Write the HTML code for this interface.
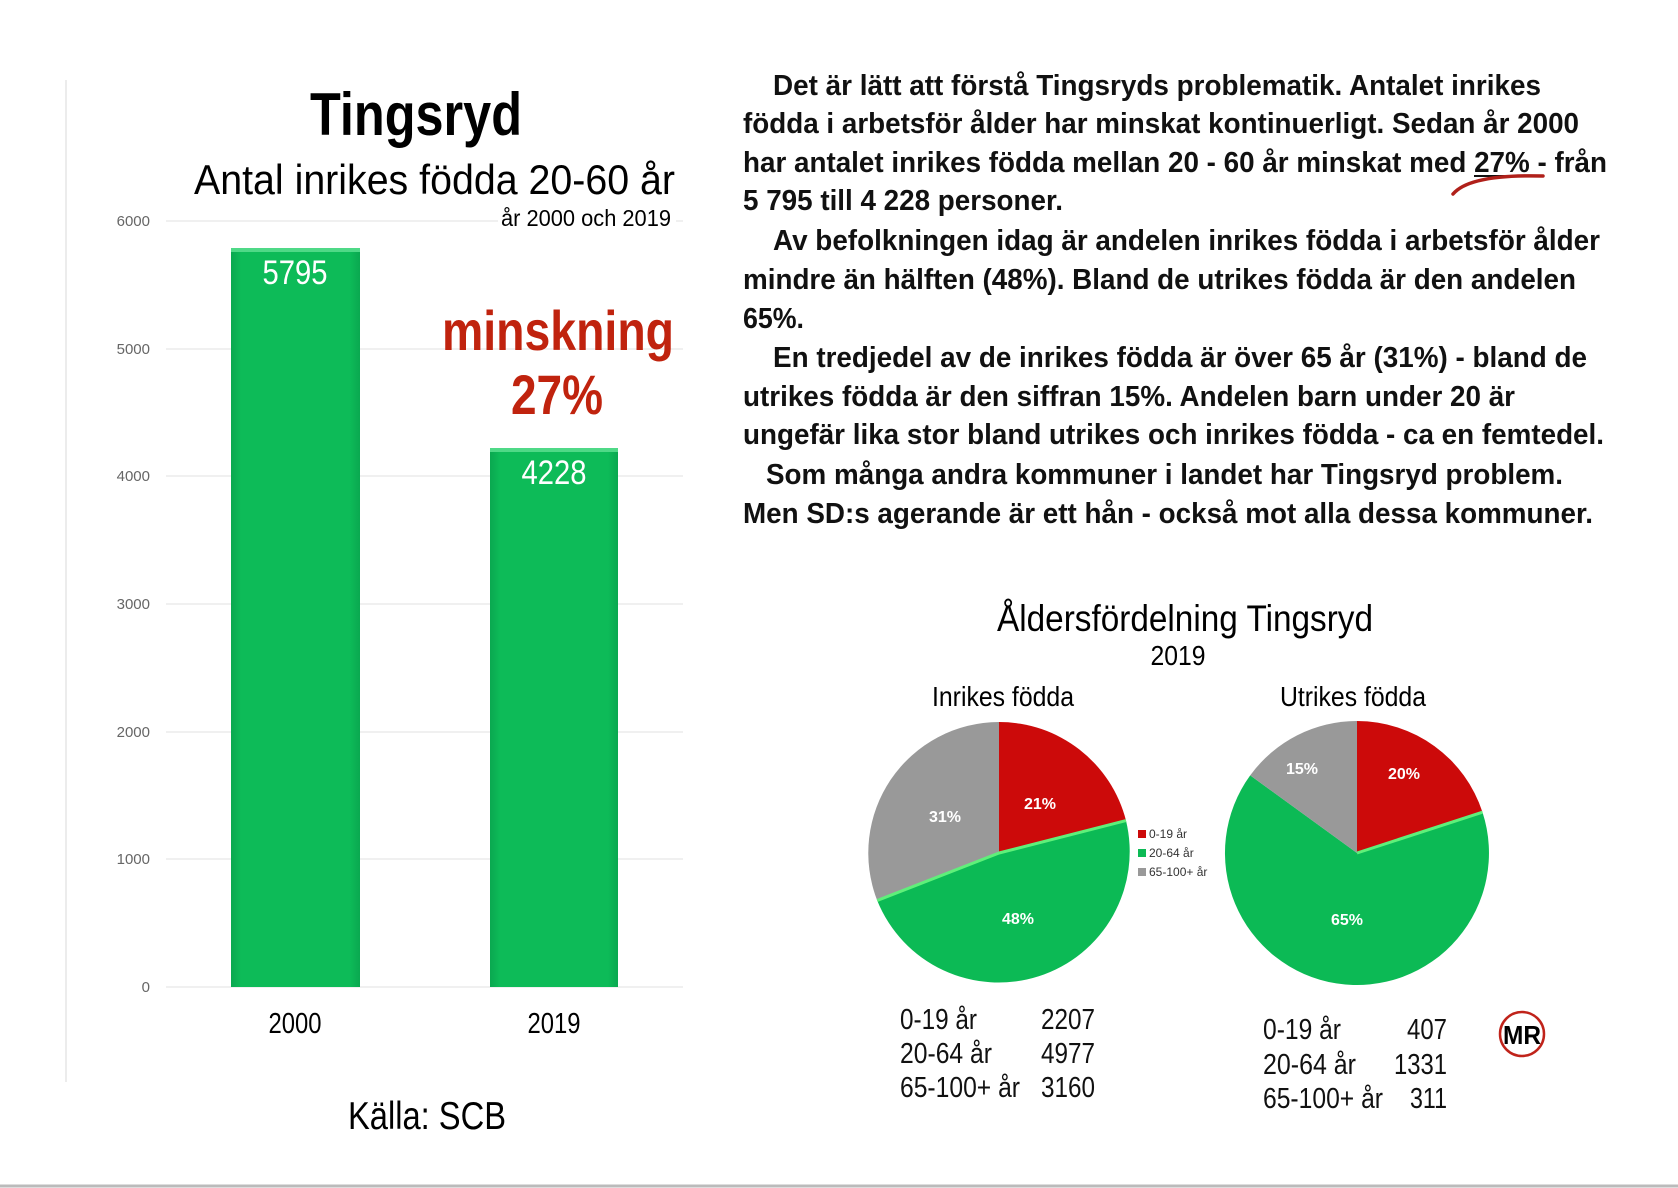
<!DOCTYPE html>
<html><head><meta charset="utf-8"><style>
html,body{margin:0;padding:0;background:#fff;}
svg{display:block;}
text{font-family:"Liberation Sans",Arial,sans-serif;}
</style></head><body>
<svg width="1678" height="1188" viewBox="0 0 1678 1188" xmlns="http://www.w3.org/2000/svg">
<defs>
<linearGradient id="bar" x1="0" x2="1" y1="0" y2="0">
<stop offset="0" stop-color="#0aa850"/><stop offset="0.08" stop-color="#0dbb58"/><stop offset="0.92" stop-color="#0dbb58"/><stop offset="1" stop-color="#0aa850"/>
</linearGradient>
</defs>
<rect width="1678" height="1188" fill="#fff"/>
<line x1="66" y1="80" x2="66" y2="1082" stroke="#e6e6e6" stroke-width="1.5"/>
<line x1="0" y1="1186" x2="1678" y2="1186" stroke="#bbb" stroke-width="3"/>

<text x="416" y="135" text-anchor="middle" font-size="60" font-weight="bold" textLength="212" lengthAdjust="spacingAndGlyphs">Tingsryd</text>
<text x="194" y="194" font-size="42" textLength="481" lengthAdjust="spacingAndGlyphs">Antal inrikes födda 20-60 år</text>
<g stroke="#e8e8e8" stroke-width="1.2">
<line x1="166" y1="221" x2="683" y2="221"/><line x1="166" y1="349" x2="683" y2="349"/><line x1="166" y1="476" x2="683" y2="476"/><line x1="166" y1="604" x2="683" y2="604"/><line x1="166" y1="732" x2="683" y2="732"/><line x1="166" y1="859" x2="683" y2="859"/><line x1="166" y1="987" x2="683" y2="987"/>
</g>
<rect x="498" y="203" width="178" height="26" fill="#fff"/>
<text x="501" y="226" font-size="23" textLength="170" lengthAdjust="spacingAndGlyphs">år 2000 och 2019</text>
<g font-size="15" fill="#666" text-anchor="end">
<text x="150" y="226">6000</text><text x="150" y="354">5000</text><text x="150" y="481">4000</text><text x="150" y="609">3000</text><text x="150" y="737">2000</text><text x="150" y="864">1000</text><text x="150" y="992">0</text>
</g>
<rect x="231" y="248" width="129" height="739" fill="url(#bar)"/>
<rect x="231" y="248" width="129" height="4" fill="#4fd987"/>
<rect x="490" y="448" width="128" height="539" fill="url(#bar)"/>
<rect x="490" y="448" width="128" height="4" fill="#4fd987"/>
<text x="295" y="284" text-anchor="middle" font-size="34" fill="#fff" textLength="65" lengthAdjust="spacingAndGlyphs">5795</text>
<text x="554" y="484" text-anchor="middle" font-size="34" fill="#fff" textLength="65" lengthAdjust="spacingAndGlyphs">4228</text>
<text x="295" y="1033" text-anchor="middle" font-size="29" textLength="53" lengthAdjust="spacingAndGlyphs">2000</text>
<text x="554" y="1033" text-anchor="middle" font-size="29" textLength="53" lengthAdjust="spacingAndGlyphs">2019</text>
<text x="442" y="350" font-size="56" font-weight="bold" fill="#c0230e" textLength="232" lengthAdjust="spacingAndGlyphs">minskning</text>
<text x="557" y="414" text-anchor="middle" font-size="56" font-weight="bold" fill="#c0230e" textLength="92" lengthAdjust="spacingAndGlyphs">27%</text>
<text x="348" y="1129" font-size="39" textLength="158" lengthAdjust="spacingAndGlyphs">Källa: SCB</text>

<g font-size="29" font-weight="bold" fill="#111">
<text x="773" y="95" textLength="768" lengthAdjust="spacingAndGlyphs">Det är lätt att förstå Tingsryds problematik. Antalet inrikes</text>
<text x="743" y="133" textLength="836" lengthAdjust="spacingAndGlyphs">födda i arbetsför ålder har minskat kontinuerligt. Sedan år 2000</text>
<text x="743" y="172" textLength="864" lengthAdjust="spacingAndGlyphs">har antalet inrikes födda mellan 20 - 60 år minskat med 27% - från</text>
<text x="743" y="210" textLength="320" lengthAdjust="spacingAndGlyphs">5 795 till 4 228 personer.</text>
<text x="773" y="250" textLength="827" lengthAdjust="spacingAndGlyphs">Av befolkningen idag är andelen inrikes födda i arbetsför ålder</text>
<text x="743" y="289" textLength="833" lengthAdjust="spacingAndGlyphs">mindre än hälften (48%). Bland de utrikes födda är den andelen</text>
<text x="743" y="328" textLength="61" lengthAdjust="spacingAndGlyphs">65%.</text>
<text x="773" y="367" textLength="814" lengthAdjust="spacingAndGlyphs">En tredjedel av de inrikes födda är över 65 år (31%) - bland de</text>
<text x="743" y="406" textLength="772" lengthAdjust="spacingAndGlyphs">utrikes födda är den siffran 15%. Andelen barn under 20 är</text>
<text x="743" y="444" textLength="861" lengthAdjust="spacingAndGlyphs">ungefär lika stor bland utrikes och inrikes födda - ca en femtedel.</text>
<text x="766" y="484" textLength="797" lengthAdjust="spacingAndGlyphs">Som många andra kommuner i landet har Tingsryd problem.</text>
<text x="743" y="523" textLength="850" lengthAdjust="spacingAndGlyphs">Men SD:s agerande är ett hån - också mot alla dessa kommuner.</text>
</g>
<line x1="1474" y1="176" x2="1536" y2="176" stroke="#111" stroke-width="2"/>
<path d="M1453 194 Q1470 174 1543 176" fill="none" stroke="#b0201a" stroke-width="3.5" stroke-linecap="round"/>

<text x="1185" y="631" text-anchor="middle" font-size="37" textLength="376" lengthAdjust="spacingAndGlyphs">Åldersfördelning Tingsryd</text>
<text x="1178" y="665" text-anchor="middle" font-size="28" textLength="55" lengthAdjust="spacingAndGlyphs">2019</text>
<text x="1003" y="706" text-anchor="middle" font-size="28" textLength="142" lengthAdjust="spacingAndGlyphs">Inrikes födda</text>
<text x="1353" y="706" text-anchor="middle" font-size="28" textLength="146" lengthAdjust="spacingAndGlyphs">Utrikes födda</text>

<g stroke-linejoin="round">
<path d="M999 853 L999 722 A131 131 0 0 1 1126 820.6 Z" fill="#cc0a0a"/>
<path d="M999 853 L1126 820.6 A131 131 0 0 1 877.2 900.5 Z" fill="#0cba55"/>
<path d="M999 853 L877.2 900.5 A131 131 0 0 1 999 722 Z" fill="#999"/>
<path d="M877.2 900.5 L999 853 L1126 820.6" fill="none" stroke="#5ff07a" stroke-width="3"/>
</g>
<g>
<path d="M1357 853 L1357 721 A132 132 0 0 1 1482.5 812.2 Z" fill="#cc0a0a"/>
<path d="M1357 853 L1482.5 812.2 A132 132 0 1 1 1250.2 775.4 Z" fill="#0cba55"/>
<path d="M1357 853 L1250.2 775.4 A132 132 0 0 1 1357 721 Z" fill="#999"/>
<path d="M1357 853 L1482.5 812.2" fill="none" stroke="#5ff07a" stroke-width="3"/>
</g>
<g font-size="16" font-weight="bold" fill="#fff" text-anchor="middle">
<text x="1040" y="809">21%</text><text x="945" y="822">31%</text><text x="1018" y="924">48%</text>
<text x="1404" y="779">20%</text><text x="1302" y="774">15%</text><text x="1347" y="925">65%</text>
</g>
<rect x="1138" y="830" width="8" height="8" fill="#cc0a0a"/>
<rect x="1138" y="849" width="8" height="8" fill="#0cba55"/>
<rect x="1138" y="868" width="8" height="8" fill="#999"/>
<g font-size="12" fill="#333">
<text x="1149" y="838">0-19 år</text><text x="1149" y="857">20-64 år</text><text x="1149" y="876">65-100+ år</text>
</g>

<g font-size="29" fill="#111" lengthAdjust="spacingAndGlyphs">
<text x="900" y="1029" textLength="77" lengthAdjust="spacingAndGlyphs">0-19 år</text>
<text x="900" y="1063" textLength="92" lengthAdjust="spacingAndGlyphs">20-64 år</text>
<text x="900" y="1097" textLength="120" lengthAdjust="spacingAndGlyphs">65-100+ år</text>
<text x="1041" y="1029" textLength="54" lengthAdjust="spacingAndGlyphs">2207</text>
<text x="1041" y="1063" textLength="54" lengthAdjust="spacingAndGlyphs">4977</text>
<text x="1041" y="1097" textLength="54" lengthAdjust="spacingAndGlyphs">3160</text>
<text x="1263" y="1039" textLength="78" lengthAdjust="spacingAndGlyphs">0-19 år</text>
<text x="1263" y="1074" textLength="93" lengthAdjust="spacingAndGlyphs">20-64 år</text>
<text x="1263" y="1108" textLength="120" lengthAdjust="spacingAndGlyphs">65-100+ år</text>
<text x="1407" y="1039" textLength="40" lengthAdjust="spacingAndGlyphs">407</text>
<text x="1394" y="1074" textLength="53" lengthAdjust="spacingAndGlyphs">1331</text>
<text x="1410" y="1108" textLength="37" lengthAdjust="spacingAndGlyphs">311</text>
</g>
<circle cx="1522" cy="1034" r="22" fill="#fff" stroke="#c0231a" stroke-width="2.5"/>
<text x="1522" y="1044" text-anchor="middle" font-size="26" font-weight="bold" textLength="38" lengthAdjust="spacingAndGlyphs">MR</text>
</svg>
</body></html>
